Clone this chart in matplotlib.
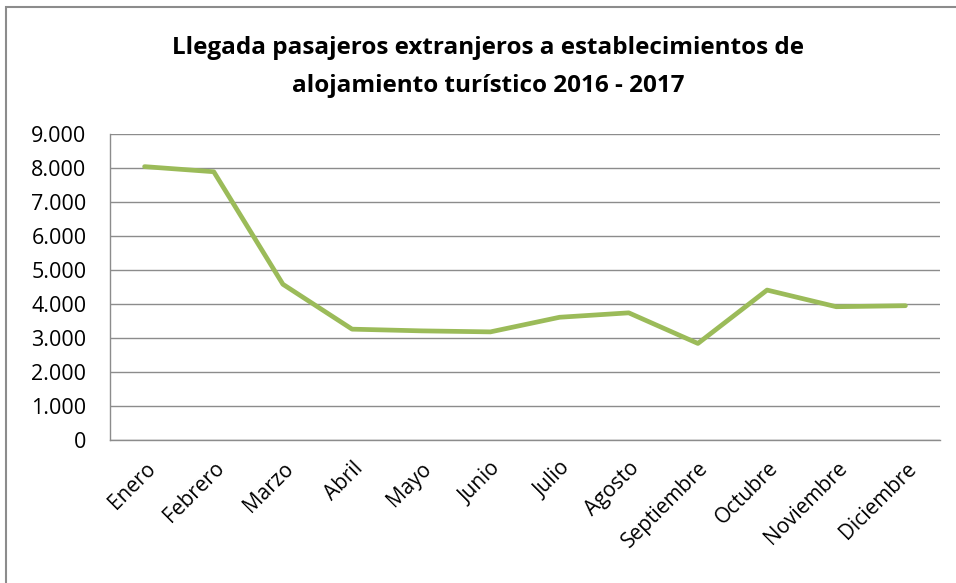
import matplotlib.pyplot as plt
from matplotlib.patches import Rectangle
from matplotlib.ticker import FuncFormatter

meses = ["Enero", "Febrero", "Marzo", "Abril", "Mayo", "Junio", "Julio",
         "Agosto", "Septiembre", "Octubre", "Noviembre", "Diciembre"]
llegadas = [8040, 7890, 4580, 3260, 3210, 3180, 3610, 3740, 2840, 4410, 3920, 3950]

plt.rcParams['font.family'] = ['Open Sans', 'DejaVu Sans']

fig = plt.figure(figsize=(9.56, 5.83), dpi=100)
# marco exterior del grafico
fig.patches.append(Rectangle((6 / 956, -0.1), 1.1, 1 - 7 / 583 + 0.1,
                             transform=fig.transFigure, fill=False,
                             edgecolor='#8c8c8c', linewidth=1.5))

ax = fig.add_axes([110 / 956, 1 - 440 / 583, 830 / 956, 306 / 583])
x = range(len(meses))
ax.plot(x, llegadas, color='#9BBB59', linewidth=3.4, solid_capstyle='round')

ax.set_xlim(-0.5, len(meses) - 0.5)
ax.set_ylim(0, 9000)
ax.set_yticks(range(0, 9001, 1000))
ax.yaxis.set_major_formatter(FuncFormatter(lambda v, p: f"{int(v):,}".replace(",", ".")))
ax.set_xticks(list(x))
ax.set_xticklabels(meses, rotation=45, ha='right', rotation_mode='anchor', fontsize=15)
ax.tick_params(axis='y', labelsize=15.5, length=0, pad=17)
ax.tick_params(axis='x', length=0, pad=13)

ax.grid(axis='y', color='#8c8c8c', linewidth=1)
ax.set_axisbelow(True)
for s in ['top', 'right']:
    ax.spines[s].set_visible(False)
for s in ['left', 'bottom']:
    ax.spines[s].set_color('#8c8c8c')
    ax.spines[s].set_linewidth(1)

fig.text(488 / 956, 1 - 67 / 583,
         "Llegada pasajeros extranjeros a establecimientos de\nalojamiento turístico 2016 - 2017",
         ha='center', va='center', fontsize=17.5, fontweight='bold', linespacing=1.75)

fig.savefig("out.png", dpi=100)
